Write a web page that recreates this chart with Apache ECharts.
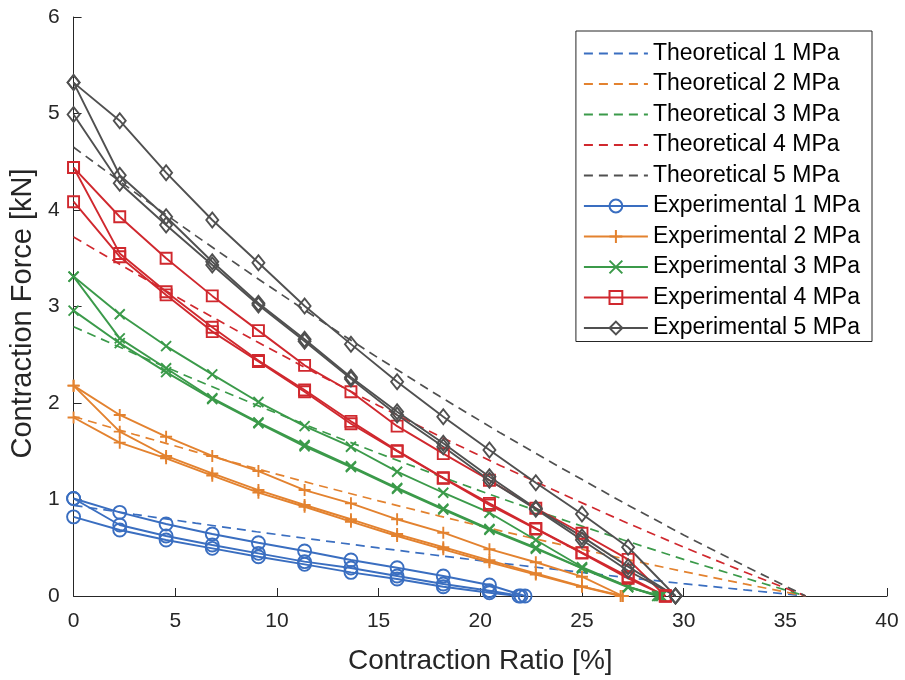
<!DOCTYPE html>
<html><head><meta charset="utf-8">
<script src="https://cdn.jsdelivr.net/npm/echarts@6/dist/echarts.min.js"></script>
<style>html,body{margin:0;padding:0;background:#fff}#chart{width:905px;height:680px}</style>
</head><body><div id="chart"></div>
<script>
// ---- data ----
const xTicks = [0, 5, 10, 15, 20, 25, 30, 35, 40];
const yTicks = [0, 1, 2, 3, 4, 5, 6];
const pressures = ['1 MPa', '2 MPa', '3 MPa', '4 MPa', '5 MPa'];

// theoretical curves
const theoryX = [0, 3, 6, 9, 12, 15, 18, 21, 24, 27, 30, 33, 36];
const theory1 = [0.94, 0.846, 0.755, 0.666, 0.581, 0.498, 0.418, 0.341, 0.268, 0.196, 0.128, 0.063, 0];
const theory2 = [1.86, 1.674, 1.494, 1.319, 1.149, 0.986, 0.828, 0.675, 0.530, 0.389, 0.253, 0.125, 0];
const theory3 = [2.79, 2.511, 2.240, 1.978, 1.724, 1.479, 1.242, 1.013, 0.795, 0.583, 0.379, 0.187, 0];
const theory4 = [3.72, 3.348, 2.987, 2.637, 2.299, 1.972, 1.655, 1.350, 1.060, 0.777, 0.506, 0.249, 0];
const theory5 = [4.65, 4.185, 3.734, 3.297, 2.874, 2.465, 2.069, 1.688, 1.325, 0.972, 0.632, 0.312, 0];

// experimental: forces at contraction steps, then the zero-force contraction
const ratioSteps = [0, 2.27, 4.55, 6.82, 9.09, 11.36, 13.64, 15.91, 18.18, 20.45, 22.73, 25.00, 27.27];

const exp1A = [1.01, 0.867, 0.746, 0.642, 0.552, 0.466, 0.373, 0.293, 0.207, 0.114];
const exp1B = [1.01, 0.736, 0.622, 0.528, 0.442, 0.356, 0.290, 0.207, 0.124, 0.055];
const exp1C = [0.82, 0.684, 0.580, 0.494, 0.407, 0.328, 0.245, 0.176, 0.096, 0.034];
const exp1End = [22.2, 22.0, 21.9];

const exp2A = [2.18, 1.876, 1.651, 1.451, 1.295, 1.098, 0.960, 0.795, 0.656, 0.485, 0.350, 0.200];
const exp2B = [2.18, 1.703, 1.451, 1.271, 1.098, 0.943, 0.795, 0.642, 0.505, 0.370, 0.235, 0.100];
const exp2C = [1.85, 1.589, 1.427, 1.247, 1.071, 0.925, 0.770, 0.622, 0.484, 0.350, 0.222, 0.096];
const exp2End = [27.0, 27.0, 26.9];

const exp3A = [3.31, 2.92, 2.59, 2.297, 2.01, 1.76, 1.547, 1.288, 1.07, 0.863, 0.58, 0.30, 0.096];
const exp3B = [3.31, 2.67, 2.36, 2.05, 1.80, 1.565, 1.345, 1.12, 0.905, 0.695, 0.50, 0.29, 0.096];
const exp3C = [2.957, 2.62, 2.32, 2.04, 1.79, 1.55, 1.335, 1.11, 0.895, 0.685, 0.49, 0.285, 0.09];
const exp3End = [28.7, 28.8, 28.9];

const exp4A = [4.44, 3.93, 3.50, 3.11, 2.75, 2.39, 2.117, 1.76, 1.475, 1.20, 0.909, 0.65, 0.38];
const exp4B = [4.44, 3.55, 3.153, 2.785, 2.44, 2.135, 1.81, 1.506, 1.225, 0.96, 0.70, 0.449, 0.20];
const exp4C = [4.086, 3.516, 3.12, 2.74, 2.43, 2.117, 1.785, 1.50, 1.22, 0.943, 0.695, 0.445, 0.183];
const exp4End = [29.1, 29.1, 29.1];

const exp5A = [5.32, 4.925, 4.387, 3.896, 3.454, 3.005, 2.61, 2.22, 1.858, 1.513, 1.174, 0.85, 0.505];
const exp5B = [5.32, 4.36, 3.93, 3.464, 3.033, 2.66, 2.266, 1.91, 1.582, 1.236, 0.909, 0.615, 0.304];
const exp5C = [4.99, 4.277, 3.845, 3.43, 3.015, 2.64, 2.25, 1.876, 1.547, 1.20, 0.90, 0.58, 0.262];
const exp5End = [29.6, 29.6, 29.6];

// ---- styling ----
const colors = ['#3a6ec0', '#e3822f', '#3b9a4a', '#d0282e', '#505050'];
const symbols = ['circle', 'path://M5,0L5,10M0,5L10,5', 'path://M0,0L10,10M10,0L0,10', 'rect', 'diamond'];
const symbolSizes = [13, 12, 10, 11, [12, 15]];
const fontFam = 'Liberation Sans, Arial, sans-serif';

const theories = [theory1, theory2, theory3, theory4, theory5];
const exps = [[exp1A, exp1B, exp1C], [exp2A, exp2B, exp2C], [exp3A, exp3B, exp3C], [exp4A, exp4B, exp4C], [exp5A, exp5B, exp5C]];
const ends = [exp1End, exp2End, exp3End, exp4End, exp5End];

const series = [];
const legendNames = [];
theories.forEach((t, i) => {
  const name = 'Theoretical ' + pressures[i];
  legendNames.push(name);
  series.push({
    type: 'line', name, data: t.map((y, k) => [theoryX[k], y]),
    symbol: 'circle', showSymbol: false, silent: true, z: 2,
    color: colors[i],
    itemStyle: { color: 'rgba(0,0,0,0)', borderWidth: 0 },
    lineStyle: { color: colors[i], width: 1.7, type: [9, 6] }
  });
});
exps.forEach((runs, i) => {
  const name = 'Experimental ' + pressures[i];
  legendNames.push(name);
  runs.forEach((ys, r) => {
    const data = ys.map((y, k) => [ratioSteps[k], y]);
    data.push([ends[i][r], 0]);
    series.push({
      type: 'line', name, data, clip: false, silent: true, z: 3,
      symbol: symbols[i], symbolSize: symbolSizes[i],
      color: colors[i],
      lineStyle: { color: colors[i], width: 1.9 },
      itemStyle: { color: 'rgba(255,255,255,0)', borderColor: colors[i], borderWidth: 1.9 }
    });
  });
});

const chart = echarts.init(document.getElementById('chart'), null, { renderer: 'canvas' });
chart.setOption({
  animation: false,
  backgroundColor: '#fff',
  grid: { left: 71, right: 18, top: 17, bottom: 84, containLabel: false },
  xAxis: {
    type: 'value', min: 0, max: 40, interval: 5,
    name: 'Contraction Ratio [%]', nameLocation: 'middle', nameGap: 51,
    nameTextStyle: { fontSize: 28, color: '#262626', fontFamily: fontFam },
    axisLine: { show: true, lineStyle: { color: '#262626', width: 1 } },
    axisTick: { show: true, inside: true, length: 8, lineStyle: { color: '#262626' } },
    axisLabel: { fontSize: 21, color: '#262626', fontFamily: fontFam, margin: 15,
      formatter: v => xTicks.includes(v) ? String(v) : '' },
    splitLine: { show: false }
  },
  yAxis: {
    type: 'value', min: 0, max: 6, interval: 1,
    name: 'Contraction Force [kN]', nameLocation: 'middle', nameGap: 34,
    nameTextStyle: { fontSize: 29, color: '#262626', fontFamily: fontFam, padding: [0, 14, 0, 0] },
    axisLine: { show: true, lineStyle: { color: '#262626', width: 1 } },
    axisTick: { show: true, inside: true, length: 8, lineStyle: { color: '#262626' } },
    axisLabel: { fontSize: 21, color: '#262626', fontFamily: fontFam, margin: 14,
      formatter: v => yTicks.includes(v) ? String(v) : '' },
    splitLine: { show: false }
  },
  legend: {
    data: legendNames, orient: 'vertical', right: 33, top: 31,
    backgroundColor: '#fff', borderColor: '#262626', borderWidth: 1,
    padding: [11, 12, 2, 7], itemGap: 7.5, itemWidth: 64, itemHeight: 16,
    selectedMode: false,
    textStyle: { fontSize: 23, color: '#000', fontFamily: fontFam, lineHeight: 23 }
  },
  series
});
</script></body></html>
